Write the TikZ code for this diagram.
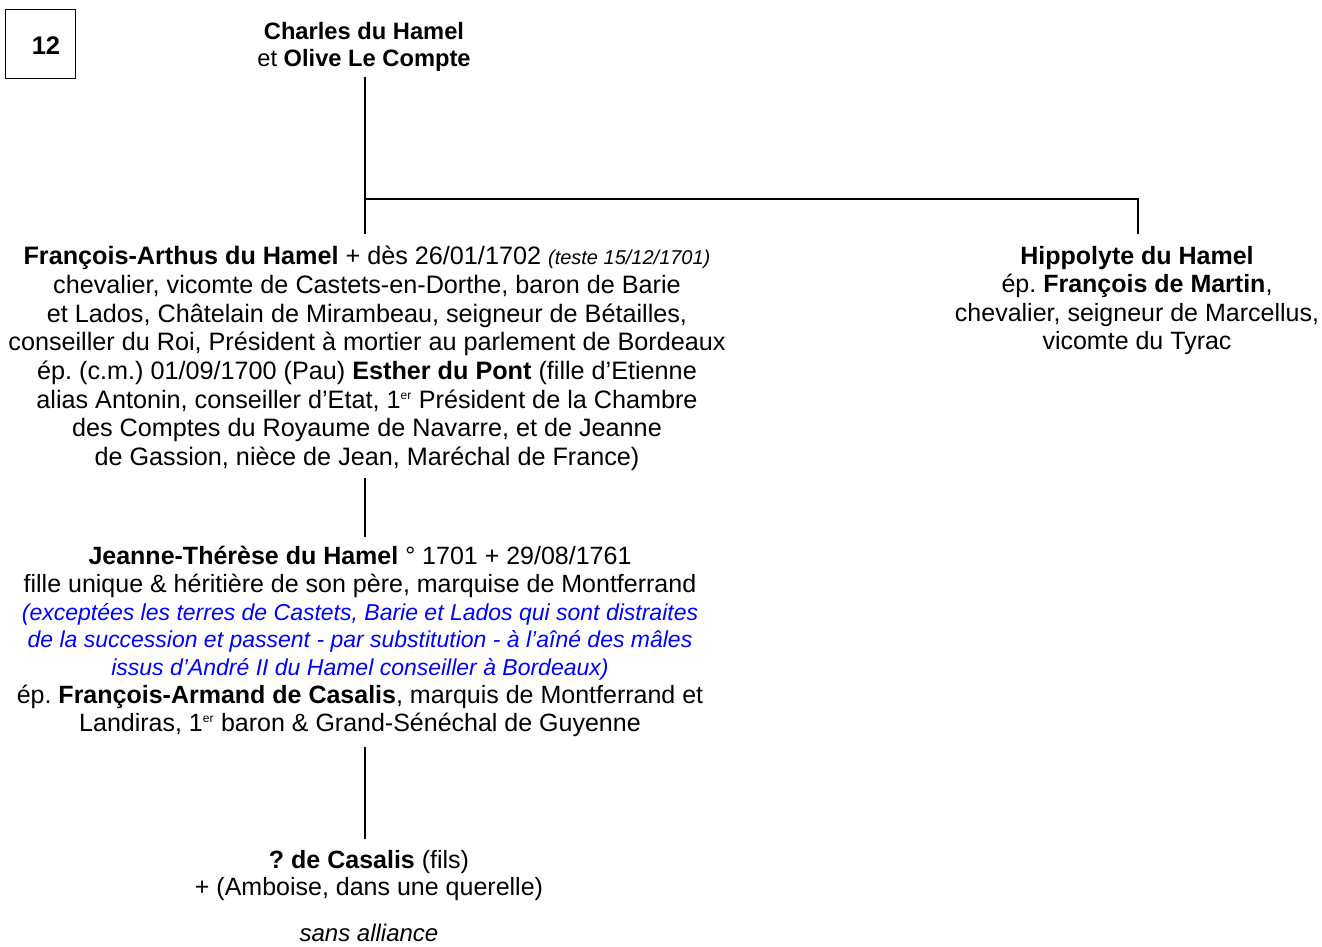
\documentclass[tikz,border=0pt]{standalone}
\usepackage{fontspec}
\setmainfont{Liberation Sans}
\newcommand{\ersup}{\textsuperscript{\fontsize{12}{12}\selectfont er}}
\frenchspacing
\begin{document}
\begin{tikzpicture}[x=1pt,y=-1pt,
  txt/.style={inner sep=0pt, align=center, font=\fontsize{25.2}{28.7}\selectfont},
  numbox/.style={inner sep=0pt, font=\fontsize{25.5}{28}\selectfont\bfseries},
  link/.style={line width=2.8pt},
  note/.style={text=blue, font=\fontsize{23}{27.8}\selectfont\itshape}]
\useasboundingbox (0,0) rectangle (1322,946);

\node[draw, line width=1pt, minimum width=70pt, minimum height=69pt] (num) at (40,43.5) {};
\node[numbox] (numtxt) at (46,46) {12};

\node[txt, anchor=north, font=\fontsize{23.7}{27.5}\selectfont] (charles) at (364,22) {\textbf{Charles du Hamel}\\et \textbf{Olive Le Compte}};

\node[txt, anchor=north] (fa) at (367,246) {\textbf{François-Arthus du Hamel} + dès 26/01/1702 {\fontsize{20}{20}\selectfont\itshape(teste 15/12/1701)}\\
chevalier, vicomte de Castets-en-Dorthe, baron de Barie\\
et Lados, Châtelain de Mirambeau, seigneur de Bétailles,\\
conseiller du Roi, Président à mortier au parlement de Bordeaux\\
ép. (c.m.) 01/09/1700 (Pau) \textbf{Esther du Pont} (fille d’Etienne\\
alias Antonin, conseiller d’Etat, 1\ersup{} Président de la Chambre\\
des Comptes du Royaume de Navarre, et de Jeanne\\
de Gassion, nièce de Jean, Maréchal de France)};

\node[txt, anchor=north, font=\fontsize{25}{28.5}\selectfont] (hip) at (1137,246) {\textbf{Hippolyte du Hamel}\\
ép. \textbf{François de Martin},\\
chevalier,\ seigneur\ de\ Marcellus,\\
vicomte du Tyrac};

\node[txt, anchor=north, font=\fontsize{25}{27.8}\selectfont] (jt) at (360,546) {\textbf{Jeanne-Thérèse du Hamel} ° 1701 + 29/08/1761\\
fille unique \& héritière de son père, marquise de Montferrand\\
{\color{blue}\fontsize{23}{27.8}\selectfont\itshape (exceptées\ les\ terres\ de\ Castets,\ Barie\ et\ Lados\ qui\ sont\ distraites}\\
{\color{blue}\fontsize{23}{27.8}\selectfont\itshape de\ la\ succession\ et\ passent\ -\ par\ substitution\ -\ à\ l’aîné\ des\ mâles}\\
{\color{blue}\fontsize{23}{27.8}\selectfont\itshape issus d’André II du Hamel conseiller à Bordeaux)}\\
ép. \textbf{François-Armand de Casalis}, marquis de Montferrand et\\
Landiras, 1\ersup{} baron \& Grand-Sénéchal de Guyenne};

\node[txt, anchor=north, font=\fontsize{25}{27}\selectfont] (cas) at (369,850) {\textbf{? de Casalis} (fils)\\+\ (Amboise,\ dans\ une\ querelle)};
\node[txt, anchor=north, font=\fontsize{24}{27}\selectfont\itshape] (sa) at (369,924) {sans\ alliance};

\coordinate (c0) at (365,77);
\coordinate (j1) at (365,199);
\coordinate (j2) at (1138,199);
\coordinate (fa0) at (365,234);
\coordinate (h0) at (1138,234);
\coordinate (fa1) at (365,478);
\coordinate (jt0) at (365,537);
\coordinate (jt1) at (365,747);
\coordinate (cas0) at (365,839);

\draw[link] (c0) -- (j1) -- (fa0);
\draw[link] (j1) -- (j2) -- (h0);
\draw[link] (fa1) -- (jt0);
\draw[link] (jt1) -- (cas0);
\end{tikzpicture}
\end{document}
